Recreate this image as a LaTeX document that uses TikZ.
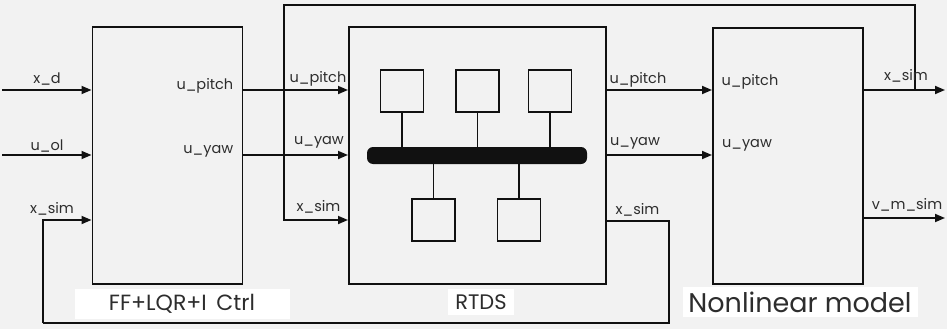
\documentclass[tikz,border=0pt]{standalone}
\usepackage{fontspec}
\setmainfont{Poppins}
\usetikzlibrary{arrows.meta}
\definecolor{bgc}{RGB}{242,242,242}
\definecolor{linec}{RGB}{17,17,17}
\definecolor{txtc}{RGB}{45,45,45}
\begin{document}
\begin{tikzpicture}[x=1pt,y=-1pt,
  line width=1.6pt, draw=linec,
  box/.style={draw=linec, line width=1.7pt, fill=bgc, inner sep=0pt, anchor=north west},
  sq/.style={draw=linec, line width=1.5pt, fill=bgc, inner sep=0pt, minimum width=43pt, minimum height=42pt},
  sig/.style={draw=linec, line width=1.7pt, -{Triangle[length=10pt,width=8pt]}},
  wire/.style={draw=linec, line width=1.7pt},
  lbl/.style={text=txtc, font=\fontsize{14.5}{14.5}\selectfont, inner sep=0pt},
  title/.style={text=txtc, fill=white, inner sep=0pt, font=\fontsize{22}{22}\selectfont}]
\fill[bgc] (0,0) rectangle (947,329);
\useasboundingbox (0,0) rectangle (947,329);
% blocks
\node[box, minimum width=150pt, minimum height=257pt] (ctrl) at (91.5,26) {};
\node[box, minimum width=257pt, minimum height=257pt] (rtds) at (348,26) {};
\node[box, minimum width=150pt, minimum height=256pt] (nl) at (712,27) {};
% bottom titles
\node[title, minimum width=215pt, minimum height=30pt] (tctrl) at (182,304) {FF+LQR+I\, Ctrl};
\node[title, font=\fontsize{21}{21}\selectfont, minimum width=66pt, minimum height=26pt] (trtds) at (481,302) {RTDS};
\node[title, font=\fontsize{27}{27}\selectfont, minimum width=235pt, minimum height=30pt] (tnl) at (800,302) {Nonlinear model};
% RTDS internals
\node[fill=linec, rounded corners=6pt, minimum width=220pt, minimum height=17pt, inner sep=0pt] (bus) at (477,155.5) {};
\node[sq] (s1) at (402,91) {};
\node[sq] (s2) at (477.5,91) {};
\node[sq] (s3) at (550,91) {};
\node[sq] (s4) at (433.5,220) {};
\node[sq] (s5) at (519,220) {};
\foreach \s in {s1,s2,s3} \draw[wire, line width=1.5pt] (\s.south) -- (\s.south |- bus.center);
\foreach \s in {s4,s5} \draw[wire, line width=1.5pt] (\s.north) -- (\s.north |- bus.center);
% coordinates
\coordinate (inxd) at (2,90);
\coordinate (inol) at (2,155);
\coordinate (fbl) at (43,220);
\coordinate (fbr) at (669,221);
\coordinate (fbb) at (43,323);
\coordinate (top) at (284,5);
\coordinate (tr) at (915,5);
\coordinate (outx) at (945,90);
\coordinate (outv) at (945,218);
% controller inputs
\draw[sig] (inxd) -- (ctrl.west |- inxd);
\draw[sig] (inol) -- (ctrl.west |- inol);
\draw[sig] (fbb) -- (fbl) -- (ctrl.west |- fbl);
% feedback from RTDS x_sim
\draw[wire] (rtds.east |- fbr) -- (fbr) -- (fbr |- fbb) -- (fbb);
% ctrl -> rtds
\draw[sig] (ctrl.east |- inxd) -- (rtds.west |- inxd);
\draw[sig] (ctrl.east |- inol) -- (rtds.west |- inol);
% rtds -> nl
\draw[sig] (rtds.east |- inxd) -- (nl.west |- inxd);
\draw[sig] (rtds.east |- inol) -- (nl.west |- inol);
% nl outputs
\draw[sig] (nl.east |- outx) -- (outx);
\draw[sig] (nl.east |- outv) -- (outv);
% top loop
\draw[sig] (tr |- outx) -- (tr) -- (top) -- (top |- fbl) -- (rtds.west |- fbl);
% labels
\node[lbl] (l1) at (47,79) {x\_d};
\node[lbl] (l2) at (47,146) {u\_ol};
\node[lbl] (l3) at (52,209) {x\_sim};
\node[lbl, anchor=east] (l4) at (234,86) {u\_pitch};
\node[lbl, anchor=east] (l5) at (234,151) {u\_yaw};
\node[lbl] (l6) at (318,79) {u\_pitch};
\node[lbl] (l7) at (319,142) {u\_yaw};
\node[lbl] (l8) at (318.5,207) {x\_sim};
\node[lbl] (l9) at (638,80) {u\_pitch};
\node[lbl] (l10) at (635,143) {u\_yaw};
\node[lbl] (l11) at (637.5,210) {x\_sim};
\node[lbl] (l12) at (750,82) {u\_pitch};
\node[lbl] (l13) at (747,145) {u\_yaw};
\node[lbl] (l14) at (906,76) {x\_sim};
\node[lbl] (l15) at (907,205) {v\_m\_sim};
\end{tikzpicture}
\end{document}
